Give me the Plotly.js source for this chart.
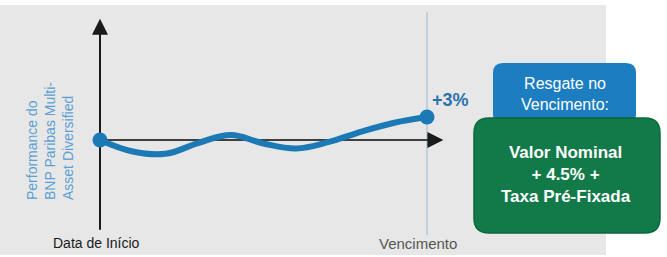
<!DOCTYPE html>
<html>
<head>
<meta charset="utf-8">
<script src="https://cdn.plot.ly/plotly-3.0.1.min.js"></script>
<style>html,body{margin:0;padding:0;background:#fff;}#chart{width:667px;height:257px;}</style>
</head>
<body>
<div id="chart"></div>
<script>
// ---- data ----
var timeSteps = [0, 1, 2, 3, 4, 5, 6, 7, 8, 9, 10];
var performance = [0, -1.5, -1.8, -0.4, 0.65, -0.45, -1.1, -0.25, 1.1, 2.25, 3.0];
var endpointTimes = [0, 10];
var endpointValues = [0, 3.0];
var xLabels = ['Data de Início', 'Vencimento'];
var yTitleLines = ['Performance do', 'BNP Paribas Multi-', 'Asset Diversified'];
var finalLabel = '+3%';
var boxTitle = ['Resgate no', 'Vencimento:'];
var boxBody = ['Valor Nominal', '+ 4.5% +', 'Taxa Pré-Fixada'];

var W = 667, H = 257;
var FONT = 'Arial, Liberation Sans, sans-serif';
function px(x){ return x / W; }
function py(y){ return 1 - y / H; }
function roundRect(x0, y0, x1, y1, r){
  var p = [];
  p.push('M' + px(x0 + r) + ',' + py(y0));
  p.push('L' + px(x1 - r) + ',' + py(y0));
  p.push('Q' + px(x1) + ',' + py(y0) + ' ' + px(x1) + ',' + py(y0 + r));
  p.push('L' + px(x1) + ',' + py(y1 - r));
  p.push('Q' + px(x1) + ',' + py(y1) + ' ' + px(x1 - r) + ',' + py(y1));
  p.push('L' + px(x0 + r) + ',' + py(y1));
  p.push('Q' + px(x0) + ',' + py(y1) + ' ' + px(x0) + ',' + py(y1 - r));
  p.push('L' + px(x0) + ',' + py(y0 + r));
  p.push('Q' + px(x0) + ',' + py(y0) + ' ' + px(x0 + r) + ',' + py(y0));
  p.push('Z');
  return p.join(' ');
}

var xScale = 32.7, x0px = 100;
var yScale = 7.67, y0px = 140;
var xRange = [-x0px / xScale, (W - x0px) / xScale];
var yRange = [(y0px - H) / yScale, y0px / yScale];

var traces = [
  {x: timeSteps, y: performance, mode: 'lines', type: 'scatter',
   line: {color: '#1b79b6', width: 6, shape: 'spline', smoothing: 1.1},
   hoverinfo: 'skip', showlegend: false},
  {x: endpointTimes, y: endpointValues, mode: 'markers', type: 'scatter',
   marker: {color: '#1b79b6', size: 15}, hoverinfo: 'skip', showlegend: false}
];

var shapes = [
  {type: 'rect', xref: 'paper', yref: 'paper', x0: 0, x1: px(606), y0: py(255), y1: py(5),
   fillcolor: '#e7e7e7', line: {width: 0}, layer: 'below'},
  {type: 'line', xref: 'x', yref: 'y', x0: 10, x1: 10, y0: -12.4, y1: 16.7,
   line: {color: '#b4cad6', width: 1.5}, layer: 'below'},
  {type: 'line', xref: 'x', yref: 'y', x0: 0, x1: 0, y0: -11.7, y1: 15,
   line: {color: '#1a1a1a', width: 2}, layer: 'below'},
  {type: 'line', xref: 'x', yref: 'y', x0: 0, x1: 10.2, y0: 0, y1: 0,
   line: {color: '#404040', width: 2}, layer: 'below'},
  {type: 'path', xref: 'paper', yref: 'paper', path: roundRect(493, 63, 636, 125, 10),
   fillcolor: '#1c7ec0', line: {width: 0}, layer: 'above'},
  {type: 'path', xref: 'paper', yref: 'paper', path: roundRect(474, 118, 660, 233, 15),
   fillcolor: '#127a49', line: {color: '#0d683d', width: 1.5}, layer: 'above'}
];

var annotations = [
  {x: 0, y: 15.8, xref: 'x', yref: 'y', ax: 0, ay: 12, text: '', showarrow: true,
   arrowhead: 2, arrowsize: 1.6, arrowwidth: 2, arrowcolor: '#1a1a1a', standoff: 0},
  {x: 10.5, y: 0, xref: 'x', yref: 'y', ax: -12, ay: 0, text: '', showarrow: true,
   arrowhead: 2, arrowsize: 1.6, arrowwidth: 2, arrowcolor: '#1a1a1a', standoff: 0},
  {x: endpointTimes[1], y: endpointValues[1], xref: 'x', yref: 'y', text: '<b>' + finalLabel + '</b>',
   showarrow: false, xanchor: 'left', yanchor: 'middle', xshift: 3, yshift: 17,
   font: {family: FONT, size: 18, color: '#2a72ad'}},
  {x: px(50), y: py(141), xref: 'paper', yref: 'paper', text: yTitleLines.join('<br>'),
   textangle: -90, align: 'left', showarrow: false, xanchor: 'center', yanchor: 'middle',
   font: {family: FONT, size: 14, color: '#5b9fd3'}},
  {x: 0, y: py(243), xref: 'x', yref: 'paper', text: xLabels[0], showarrow: false,
   xanchor: 'center', yanchor: 'middle', xshift: -4, font: {family: FONT, size: 14, color: '#1a1a1a'}},
  {x: 10, y: py(243), xref: 'x', yref: 'paper', text: xLabels[1], showarrow: false,
   xanchor: 'center', yanchor: 'middle', xshift: -9, font: {family: FONT, size: 15, color: '#555555'}},
  {x: px(565), y: py(94), xref: 'paper', yref: 'paper', text: boxTitle.join('<br>'), showarrow: false,
   xanchor: 'center', yanchor: 'middle', font: {family: FONT, size: 16, color: '#ffffff'}},
  {x: px(566), y: py(174), xref: 'paper', yref: 'paper', text: '<b>' + boxBody.join('<br>') + '</b>', showarrow: false,
   xanchor: 'center', yanchor: 'middle', font: {family: FONT, size: 17, color: '#ffffff'}}
];

var layout = {
  width: W, height: H, autosize: false,
  margin: {l: 0, r: 0, t: 0, b: 0, pad: 0},
  paper_bgcolor: '#ffffff', plot_bgcolor: 'rgba(0,0,0,0)',
  xaxis: {range: xRange, visible: false, fixedrange: true},
  yaxis: {range: yRange, visible: false, fixedrange: true},
  shapes: shapes, annotations: annotations, showlegend: false
};

Plotly.newPlot('chart', traces, layout, {displayModeBar: false, staticPlot: true});
</script>
</body>
</html>
